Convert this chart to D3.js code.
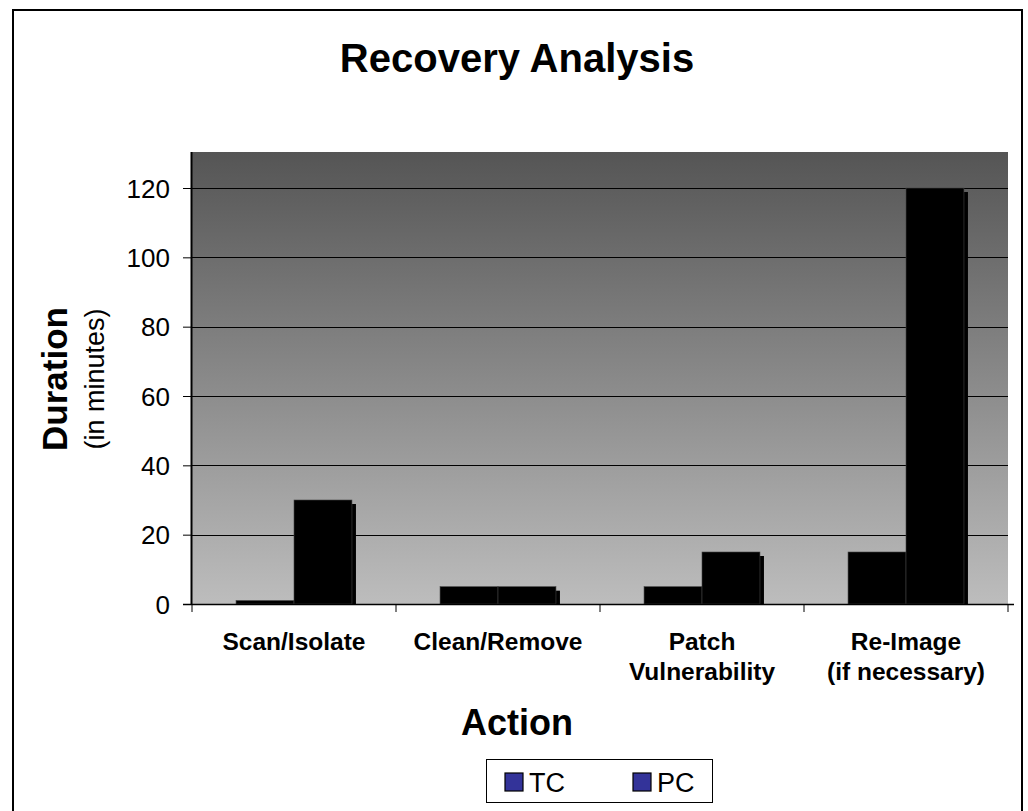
<!DOCTYPE html>
<html>
<head>
<meta charset="utf-8">
<script src="https://cdn.jsdelivr.net/npm/d3@7"></script>
<style>
  body { margin: 0; background: #fff; }
  text { font-family: Arial, "Liberation Sans", Helvetica, sans-serif; }
</style>
</head>
<body>
<div id="chart"></div>
<script>
// data
var categories = [["Scan/Isolate"], ["Clean/Remove"], ["Patch", "Vulnerability"], ["Re-Image", "(if necessary)"]];
var seriesNames = ["TC", "PC"];
var tcValues = [1, 5, 5, 15];
var pcValues = [30, 5, 15, 120];
var yTicks = [0, 20, 40, 60, 80, 100, 120];

var attrs = {
    svgWidth: 1028,
    svgHeight: 811,
    plotLeft: 192,
    plotRight: 1008,
    plotTop: 152,
    plotBottom: 604,
    barColor: '#000',
    legendColor: '#333399',
    depth: 4
};

var svg = d3.select('#chart').append('svg')
    .attr('width', attrs.svgWidth)
    .attr('height', attrs.svgHeight);

// outer frame
svg.append('rect')
    .attr('x', 13).attr('y', 10)
    .attr('width', 1009).attr('height', 820)
    .attr('fill', '#fff').attr('stroke', '#000').attr('stroke-width', 2);

// gradient for plot area
var defs = svg.append('defs');
var grad = defs.append('linearGradient').attr('id', 'plotGrad')
    .attr('x1', 0).attr('y1', 0).attr('x2', 0).attr('y2', 1);
grad.append('stop').attr('offset', '0%').attr('stop-color', '#555555');
grad.append('stop').attr('offset', '100%').attr('stop-color', '#bdbdbd');

var x0 = d3.scaleBand()
    .domain(d3.range(categories.length))
    .range([attrs.plotLeft, attrs.plotRight]);

var x1 = d3.scaleBand()
    .domain(seriesNames)
    .range([0, x0.bandwidth()])
    .paddingOuter(0.76);

var y = d3.scaleLinear()
    .domain([0, 120 * (attrs.plotBottom - attrs.plotTop) / 416])
    .range([attrs.plotBottom, attrs.plotTop]);

svg.append('rect')
    .attr('x', attrs.plotLeft).attr('y', attrs.plotTop)
    .attr('width', attrs.plotRight - attrs.plotLeft)
    .attr('height', attrs.plotBottom - attrs.plotTop)
    .attr('fill', 'url(#plotGrad)');

// gridlines
svg.append('g').selectAll('line')
    .data(yTicks.filter(d => d > 0))
    .join('line')
    .attr('x1', attrs.plotLeft).attr('x2', attrs.plotRight)
    .attr('y1', d => Math.round(y(d)) + 0.5).attr('y2', d => Math.round(y(d)) + 0.5)
    .attr('stroke', '#000').attr('stroke-width', 1);

// bars
var rows = categories.map((c, i) => [
    { key: 'TC', i: i, v: tcValues[i] },
    { key: 'PC', i: i, v: pcValues[i] }
]);

var groups = svg.append('g').selectAll('g')
    .data(rows)
    .join('g')
    .attr('transform', (d, i) => 'translate(' + x0(i) + ',0)');

// depth shadow
groups.selectAll('rect.shadow')
    .data(d => d)
    .join('rect')
    .attr('class', 'shadow')
    .attr('x', d => x1(d.key) + attrs.depth)
    .attr('y', d => y(d.v) + attrs.depth)
    .attr('width', x1.bandwidth())
    .attr('height', d => Math.max(0, attrs.plotBottom - y(d.v) - attrs.depth))
    .attr('fill', attrs.barColor);

groups.selectAll('rect.front')
    .data(d => d)
    .join('rect')
    .attr('class', 'front')
    .attr('x', d => x1(d.key))
    .attr('y', d => y(d.v))
    .attr('width', x1.bandwidth())
    .attr('height', d => attrs.plotBottom - y(d.v))
    .attr('fill', attrs.barColor)
    .attr('stroke', '#444').attr('stroke-width', 0.6);

// y axis
var yAxis = d3.axisLeft(y).tickValues(yTicks).tickSize(9).tickPadding(8).tickFormat(d3.format('d'));
var yg = svg.append('g')
    .attr('transform', 'translate(' + attrs.plotLeft + ',0)')
    .call(yAxis);
yg.select('.domain').attr('d', 'M-0.5,' + attrs.plotTop + 'V' + attrs.plotBottom).attr('stroke', '#000').attr('stroke-width', 2);
yg.selectAll('.tick line').attr('stroke', '#000').attr('x1', -9).attr('x2', 0);
yg.selectAll('.tick text').attr('font-size', 26).attr('fill', '#000').attr('x', -22).attr('dy', '0.35em');

// x axis
svg.append('line')
    .attr('x1', attrs.plotLeft - 9).attr('x2', attrs.plotRight + 6)
    .attr('y1', attrs.plotBottom + 0.5).attr('y2', attrs.plotBottom + 0.5)
    .attr('stroke', '#000').attr('stroke-width', 1.5);

svg.append('g').selectAll('line')
    .data(d3.range(categories.length + 1))
    .join('line')
    .attr('x1', d => attrs.plotLeft + d * x0.bandwidth())
    .attr('x2', d => attrs.plotLeft + d * x0.bandwidth())
    .attr('y1', attrs.plotBottom).attr('y2', attrs.plotBottom + 8)
    .attr('stroke', '#000');

var xLabels = svg.append('g').selectAll('text')
    .data(categories)
    .join('text')
    .attr('x', (d, i) => x0(i) + x0.bandwidth() / 2)
    .attr('y', 650)
    .attr('text-anchor', 'middle')
    .attr('font-size', 24.5)
    .attr('font-weight', 'bold');
xLabels.selectAll('tspan')
    .data(d => d)
    .join('tspan')
    .attr('x', function () { return d3.select(this.parentNode).attr('x'); })
    .attr('dy', (d, j) => j === 0 ? 0 : 30)
    .text(d => d);

// titles
svg.append('text')
    .attr('x', 517).attr('y', 72)
    .attr('text-anchor', 'middle')
    .attr('font-size', 40).attr('font-weight', 'bold')
    .text('Recovery Analysis');

svg.append('text')
    .attr('x', 517).attr('y', 735)
    .attr('text-anchor', 'middle')
    .attr('font-size', 36).attr('font-weight', 'bold')
    .text('Action');

var yTitle = svg.append('g').attr('transform', 'translate(0,379) rotate(-90)');
yTitle.append('text')
    .attr('x', 0).attr('y', 67)
    .attr('text-anchor', 'middle')
    .attr('font-size', 35).attr('font-weight', 'bold')
    .text('Duration');
yTitle.append('text')
    .attr('x', 0).attr('y', 104)
    .attr('text-anchor', 'middle')
    .attr('font-size', 27)
    .text('(in minutes)');

// legend
var legend = svg.append('g');
legend.append('rect')
    .attr('x', 486.5).attr('y', 759.5)
    .attr('width', 226).attr('height', 43)
    .attr('fill', '#fff').attr('stroke', '#000').attr('stroke-width', 1);

var items = legend.selectAll('g')
    .data(seriesNames)
    .join('g')
    .attr('transform', (d, i) => 'translate(' + (505 + i * 128) + ',773)');
items.append('rect')
    .attr('width', 18).attr('height', 18)
    .attr('fill', attrs.legendColor).attr('stroke', '#000').attr('stroke-width', 1.2);
items.append('text')
    .attr('x', 24).attr('y', 19)
    .attr('font-size', 27)
    .text(d => d);
</script>
</body>
</html>
